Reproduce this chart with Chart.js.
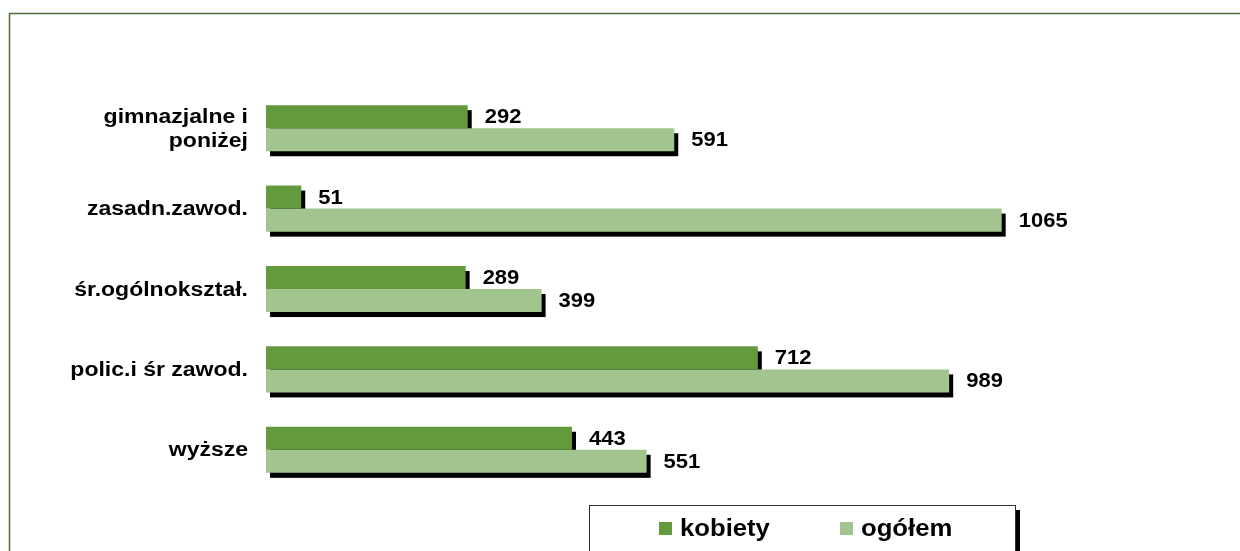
<!DOCTYPE html>
<html>
<head>
<meta charset="utf-8">
<script src="https://cdn.jsdelivr.net/npm/chart.js@4/dist/chart.umd.min.js"></script>
<style>
  html, body { margin: 0; padding: 0; background: #fff; }
  #wrap { width: 1240px; height: 551px; position: relative; }
</style>
</head>
<body>
<div id="wrap"><canvas id="chart" width="1240" height="551"></canvas></div>
<script>
  "use strict";

  const CATEGORIES = [
    ["gimnazjalne i", "poniżej"],
    "zasadn.zawod.",
    "śr.ogólnokształ.",
    "polic.i śr zawod.",
    "wyższe",
  ];
  const KOBIETY = [292, 51, 289, 712, 443];
  const OGOLEM = [591, 1065, 399, 989, 551];
  const SERIES_NAMES = ["kobiety", "ogółem"];

  const DARK_GREEN = "#639a3e";
  const LIGHT_GREEN = "#a2c48f";
  const FRAME_COLOR = "#4b6a3e";
  const FONT_FAMILY = "'Liberation Sans', Arial, sans-serif";
  const SHADOW_DX = 4;
  const SHADOW_DY = 5;

  // the source text is a bit wider than plain Arial bold, so squeeze it out sideways
  function drawWideText(ctx, text, x, y, stretch, align) {
    const w = ctx.measureText(text).width * stretch;
    const left = align === "right" ? x - w : x;
    ctx.save();
    ctx.translate(left, y);
    ctx.scale(stretch, 1);
    ctx.textAlign = "left";
    ctx.fillText(text, 0, 0);
    ctx.restore();
  }

  // black drop shadow behind every bar, like the old office charts
  const barShadowPlugin = {
    id: "barShadow",
    beforeDatasetsDraw(chart) {
      const ctx = chart.ctx;
      ctx.save();
      ctx.fillStyle = "#000";
      chart.data.datasets.forEach((ds, di) => {
        const meta = chart.getDatasetMeta(di);
        meta.data.forEach((bar) => {
          const h = bar.height;
          ctx.fillRect(bar.base + SHADOW_DX, bar.y - h / 2 + SHADOW_DY, bar.x - bar.base, h);
        });
      });
      ctx.restore();
    },
  };

  const categoryLabelPlugin = {
    id: "categoryLabels",
    afterDraw(chart) {
      const ctx = chart.ctx;
      const yScale = chart.scales.y;
      ctx.save();
      ctx.fillStyle = "#000";
      ctx.font = "bold 20px " + FONT_FAMILY;
      ctx.textBaseline = "middle";
      chart.data.labels.forEach((label, i) => {
        const lines = Array.isArray(label) ? label : [label];
        const cy = yScale.getPixelForTick(i);
        const lineH = 24;
        const y0 = cy - ((lines.length - 1) * lineH) / 2;
        lines.forEach((line, li) => {
          drawWideText(ctx, line, 248, y0 + li * lineH + 1, 1.15, "right");
        });
      });
      ctx.restore();
    },
  };

  const valueLabelPlugin = {
    id: "valueLabels",
    afterDatasetsDraw(chart) {
      const ctx = chart.ctx;
      ctx.save();
      ctx.fillStyle = "#000";
      ctx.font = "bold 20px " + FONT_FAMILY;
      ctx.textBaseline = "middle";
      chart.data.datasets.forEach((ds, di) => {
        const meta = chart.getDatasetMeta(di);
        meta.data.forEach((bar, i) => {
          drawWideText(ctx, String(ds.data[i]), bar.x + 17, bar.y + 1, 1.1, "left");
        });
      });
      ctx.restore();
    },
  };

  const frameAndLegendPlugin = {
    id: "frameAndLegend",
    afterDraw(chart) {
      const ctx = chart.ctx;
      ctx.save();
      // outer frame (right and bottom edges fall outside the picture)
      ctx.strokeStyle = FRAME_COLOR;
      ctx.lineWidth = 1.5;
      ctx.strokeRect(9.5, 13.5, 1300, 600);

      // legend box with shadow
      const lx = 589, ly = 505, lw = 426, lh = 60;
      ctx.fillStyle = "#000";
      ctx.fillRect(lx + SHADOW_DX + 1, ly + SHADOW_DY, lw, lh);
      ctx.fillStyle = "#fff";
      ctx.fillRect(lx, ly, lw, lh);
      ctx.strokeStyle = "#333";
      ctx.lineWidth = 1;
      ctx.strokeRect(lx + 0.5, ly + 0.5, lw, lh);

      const items = [
        { x: 659, color: DARK_GREEN, text: SERIES_NAMES[0] },
        { x: 840, color: LIGHT_GREEN, text: SERIES_NAMES[1] },
      ];
      ctx.font = "bold 24px " + FONT_FAMILY;
      ctx.textBaseline = "middle";
      items.forEach((it) => {
        ctx.fillStyle = it.color;
        ctx.fillRect(it.x, 522, 13, 13);
        ctx.fillStyle = "#000";
        drawWideText(ctx, it.text, it.x + 21, 529, 1.07, "left");
      });
      ctx.restore();
    },
  };

  new Chart(document.getElementById("chart"), {
    type: "bar",
    data: {
      labels: CATEGORIES,
      datasets: [
        {
          label: SERIES_NAMES[0],
          data: KOBIETY,
          backgroundColor: DARK_GREEN,
          borderWidth: 0,
          categoryPercentage: 0.573,
          barPercentage: 1,
        },
        {
          label: SERIES_NAMES[1],
          data: OGOLEM,
          backgroundColor: LIGHT_GREEN,
          borderWidth: 0,
          categoryPercentage: 0.573,
          barPercentage: 1,
        },
      ],
    },
    options: {
      indexAxis: "y",
      responsive: false,
      maintainAspectRatio: false,
      animation: false,
      events: [],
      layout: { padding: { top: 88, bottom: 61, left: 0, right: 76 } },
      plugins: {
        legend: { display: false },
        tooltip: { enabled: false },
      },
      scales: {
        x: {
          display: false,
          min: 0,
          max: 1300,
        },
        y: {
          grid: { display: false, drawTicks: false },
          border: { display: false },
          afterFit(scale) {
            scale.width = 266;
          },
          ticks: { display: false },
        },
      },
    },
    plugins: [barShadowPlugin, categoryLabelPlugin, valueLabelPlugin, frameAndLegendPlugin],
  });
</script>
</body>
</html>
